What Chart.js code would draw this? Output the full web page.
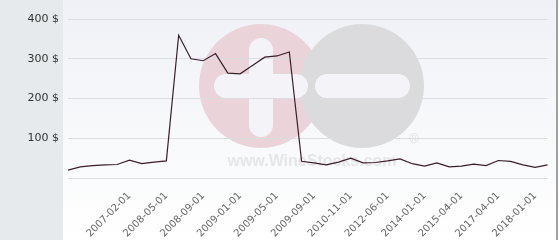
<!DOCTYPE html>
<html>
<head>
<meta charset="utf-8">
<script src="https://cdn.jsdelivr.net/npm/chart.js@4"></script>
<style>
  html, body { margin: 0; padding: 0; background: #ffffff; }
  #wrap { width: 560px; height: 240px; position: relative; }
</style>
</head>
<body>
<div id="wrap"><canvas id="chart"></canvas></div>
<script>
// dates on the x axis (only every third one is printed in the original)
const dates = [
  '', '', '', '', '', '2007-02-01', '', '', '2008-05-01', '',
  '', '2008-09-01', '', '', '2009-01-01', '', '', '2009-05-01', '', '',
  '2009-09-01', '', '', '2010-11-01', '', '', '2012-06-01', '', '', '2014-01-01',
  '', '', '2015-04-01', '', '', '2017-04-01', '', '', '2018-01-01', ''
];

// price in $
const prices = [
  20, 28, 31, 33, 34, 45, 36, 40, 43, 359,
  300, 295, 313, 264, 262, 283, 304, 307, 317, 42,
  38, 33, 40, 50, 38, 39, 43, 48, 36, 30,
  38, 28, 30, 35, 31, 44, 42, 33, 27, 33
];

const yTicks = [100, 200, 300, 400];

// background: grey-blue strip on the left, light gradient behind the plot
const background = {
  id: 'background',
  beforeDraw(chart) {
    const ctx = chart.ctx;
    const w = chart.width, h = chart.height;
    ctx.save();
    ctx.fillStyle = '#e6eaed';
    ctx.fillRect(0, 0, 63, h);
    const g = ctx.createLinearGradient(0, 0, 0, h);
    g.addColorStop(0, '#eff1f6');
    g.addColorStop(1, '#ffffff');
    ctx.fillStyle = g;
    ctx.fillRect(63, 0, w - 63, h);
    ctx.fillStyle = '#a0a0a0';
    ctx.fillRect(556, 0, 2, h);
    ctx.fillStyle = '#ffffff';
    ctx.fillRect(558, 0, 2, h);

    // WineStocks watermark
    ctx.fillStyle = '#eAd4da';
    ctx.beginPath(); ctx.arc(261, 86, 62, 0, Math.PI * 2); ctx.fill();
    ctx.fillStyle = '#dbdbdd';
    ctx.beginPath(); ctx.arc(362, 86, 62, 0, Math.PI * 2); ctx.fill();
    ctx.strokeStyle = '#f4f4f8';
    ctx.lineCap = 'round';
    ctx.lineWidth = 24;
    ctx.beginPath(); ctx.moveTo(261, 50); ctx.lineTo(261, 125); ctx.stroke();
    ctx.beginPath(); ctx.moveTo(226, 86); ctx.lineTo(296, 86); ctx.stroke();
    ctx.beginPath(); ctx.moveTo(327, 86); ctx.lineTo(398, 86); ctx.stroke();
    ctx.fillStyle = '#e6e6e9';
    ctx.font = 'bold 16px "Liberation Sans", sans-serif';
    ctx.textAlign = 'center';
    ctx.textBaseline = 'middle';
    ctx.fillText('www.WineStocks.com', 312, 162);
    ctx.font = '13px "Liberation Sans", sans-serif';
    ctx.fillStyle = '#e0e0e3';
    ctx.fillText('®', 414, 139);
    ctx.restore();
  }
};

new Chart(document.getElementById('chart'), {
  type: 'line',
  data: {
    labels: dates,
    datasets: [{
      data: prices,
      borderColor: '#3b1e2b',
      borderWidth: 1.2,
      pointRadius: 0,
      tension: 0,
      fill: false
    }]
  },
  options: {
    responsive: true,
    maintainAspectRatio: false,
    animation: false,
    layout: { padding: { top: 19, right: 5, left: 0, bottom: 0 } },
    plugins: {
      legend: { display: false },
      tooltip: { enabled: false }
    },
    scales: {
      x: {
        offset: false,
        grid: { display: false },
        border: { display: false },
        afterFit: s => { s.height = 62; },
        ticks: {
          autoSkip: false,
          maxRotation: 45,
          minRotation: 45,
          padding: 4,
          color: '#666666',
          font: { family: 'DejaVu Sans', size: 10 }
        }
      },
      y: {
        min: 0,
        max: 400,
        afterFit: s => { s.width = 68; },
        afterBuildTicks: s => { s.ticks = [0].concat(yTicks).map(v => ({ value: v })); },
        grid: { color: '#dcdde2', drawTicks: false },
        border: { display: false },
        ticks: {
          padding: 9,
          color: '#333333',
          font: { family: 'DejaVu Sans', size: 11 },
          callback: v => (v === 0 ? '' : v + ' $')
        }
      }
    }
  },
  plugins: [background]
});
</script>
</body>
</html>
